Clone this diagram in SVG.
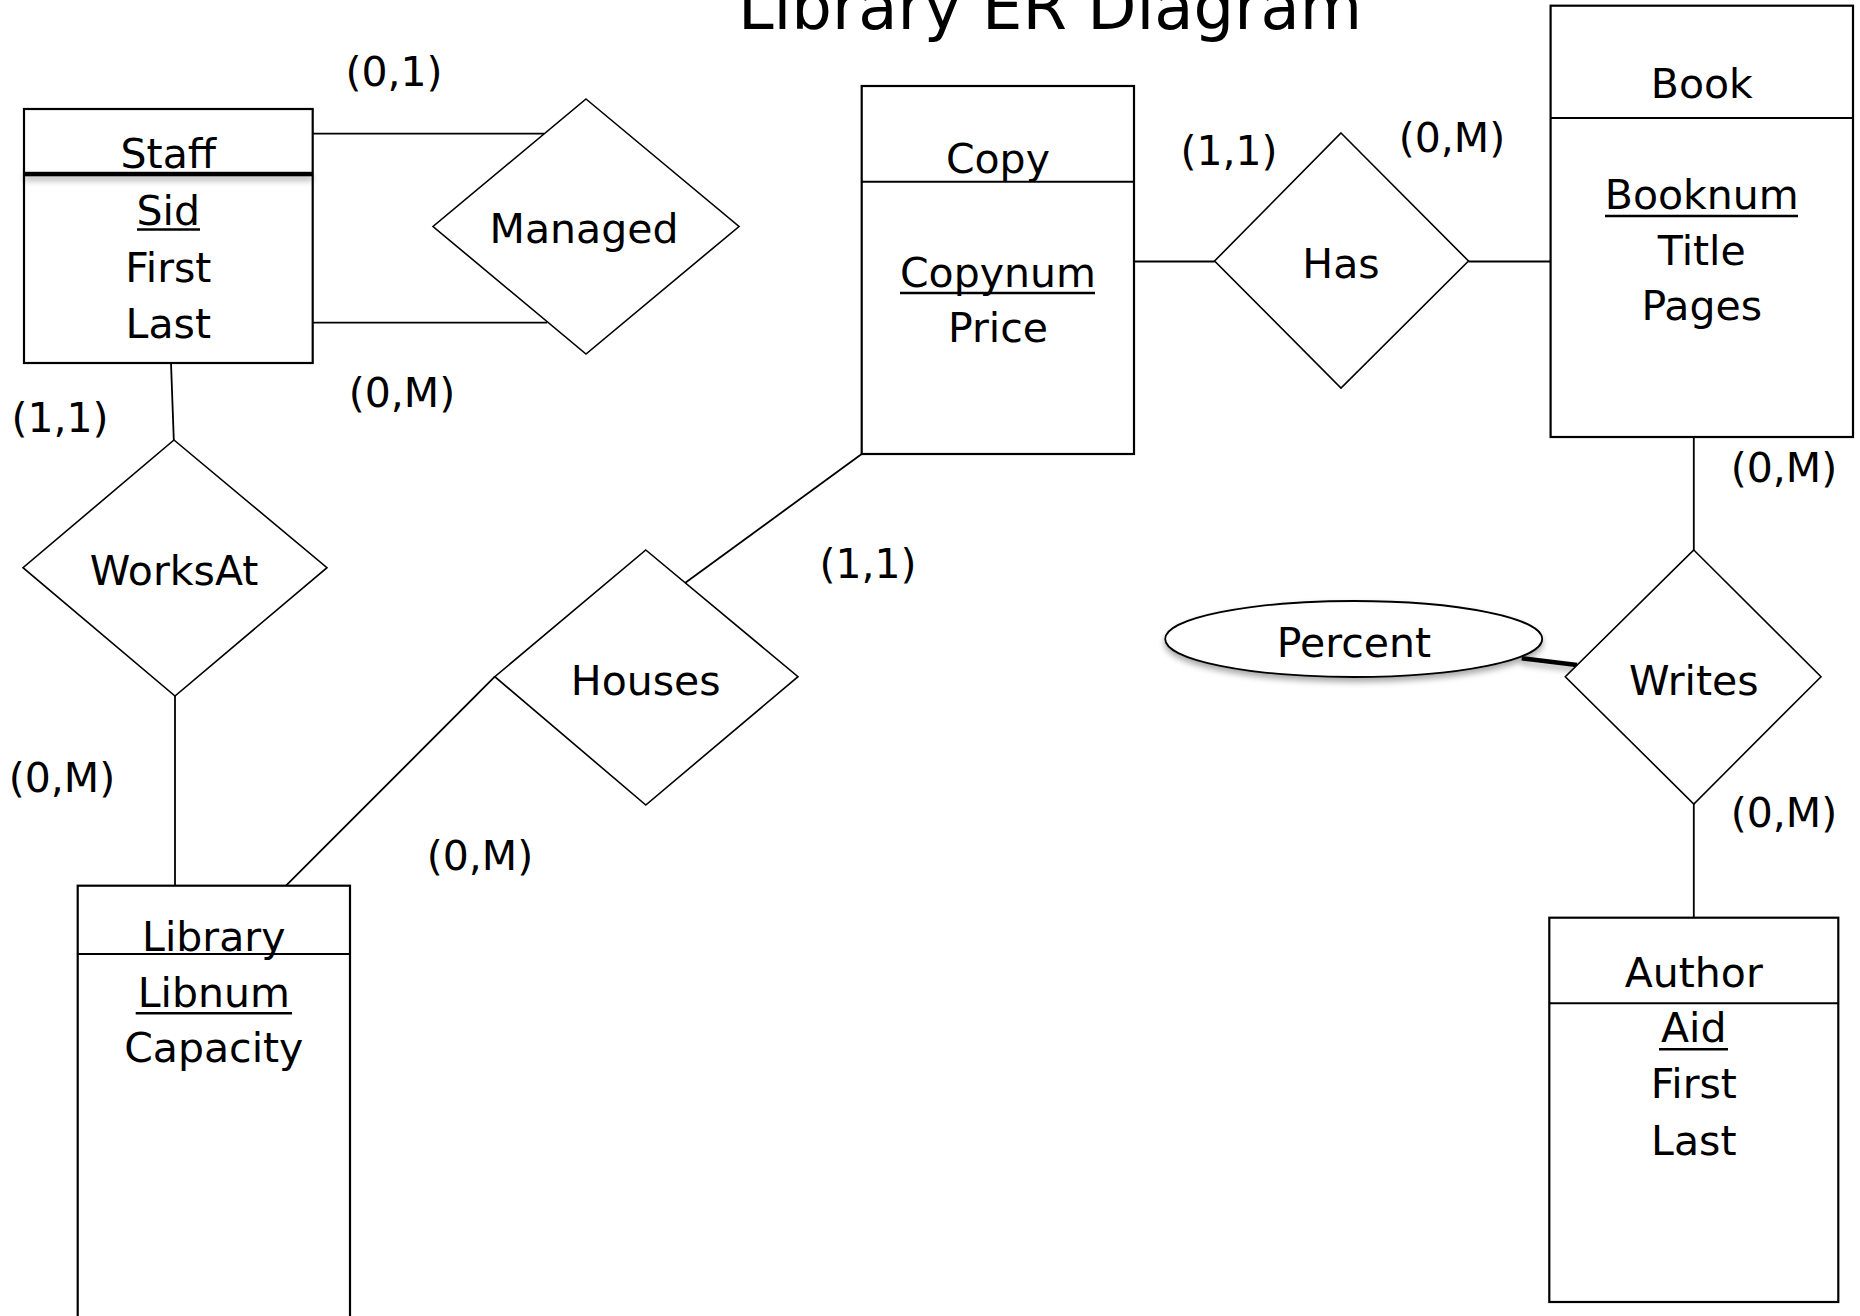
<svg xmlns="http://www.w3.org/2000/svg" width="1860" height="1316" viewBox="0 0 1860 1316">
<style>
text{font-family:"DejaVu Sans","Liberation Sans",sans-serif;font-size:41px;fill:#000;text-anchor:middle}
.title{font-size:64px}
.ent{fill:#fff;stroke:#000;stroke-width:2.2}
.div{stroke:#000;stroke-width:2}
.rel{fill:#fff;stroke:#000;stroke-width:1.6}
.con{stroke:#000;stroke-width:1.8;fill:none}
.ul{stroke:#000;stroke-width:2.5}
</style>
<defs>
<filter id="sh" filterUnits="userSpaceOnUse" x="0" y="0" width="1860" height="1316">
<feGaussianBlur in="SourceAlpha" stdDeviation="3"/>
<feOffset dx="0" dy="4" result="b"/>
<feComponentTransfer><feFuncA type="linear" slope="0.35"/></feComponentTransfer>
<feMerge><feMergeNode/><feMergeNode in="SourceGraphic"/></feMerge>
</filter>
</defs>
<rect width="1860" height="1316" fill="#fff"/>
<text class="title" x="1050" y="29">Library ER Diagram</text>

<g id="connectors">
<line class="con" x1="312.7" y1="133.7" x2="544" y2="133.7"/>
<line class="con" x1="312.7" y1="322.7" x2="547" y2="322.7"/>
<line class="con" x1="171" y1="363" x2="173.8" y2="440"/>
<line class="con" x1="175" y1="696" x2="175" y2="885.7"/>
<line class="con" x1="1134" y1="261.5" x2="1214.6" y2="261.5"/>
<line class="con" x1="1468.5" y1="261.5" x2="1550.6" y2="261.5"/>
<line class="con" x1="1693.8" y1="437" x2="1693.8" y2="550"/>
<line class="con" x1="1693.8" y1="804" x2="1693.8" y2="917.7"/>
<line class="con" x1="861.7" y1="454" x2="685" y2="583"/>
<line class="con" x1="494.8" y1="676.7" x2="286" y2="885.7"/>
<line x1="1521.7" y1="658.3" x2="1577" y2="665" stroke="#000" stroke-width="4.5" filter="url(#sh)"/>
</g>

<g id="staff">
<rect class="ent" x="24" y="109" width="288.7" height="254"/>
<rect x="24" y="171.8" width="288.7" height="4.5" fill="#000" filter="url(#sh)"/>
<text x="168.3" y="168">Staff</text>
<text x="168.3" y="225">Sid</text>
<line class="ul" x1="137" y1="229.5" x2="200" y2="229.5"/>
<text x="168.3" y="282">First</text>
<text x="168.3" y="338">Last</text>
</g>

<g id="managed">
<polygon class="rel" points="586,99 739,226.5 586,354 433,226.5"/>
<text x="584" y="243">Managed</text>
</g>

<g id="worksat">
<polygon class="rel" points="174,440 327,567.7 175,696 23,567.7"/>
<text x="174" y="585">WorksAt</text>
</g>

<g id="library">
<rect class="ent" x="77.7" y="885.7" width="272.3" height="440"/>
<line class="div" x1="77.7" y1="954" x2="350" y2="954"/>
<text x="213.8" y="950.7">Library</text>
<text x="213.8" y="1006.7">Libnum</text>
<line class="ul" x1="135.7" y1="1013.3" x2="292" y2="1013.3"/>
<text x="213.8" y="1062">Capacity</text>
</g>

<g id="houses">
<polygon class="rel" points="645.8,550 798,676.7 645.8,805 494.8,676.7"/>
<text x="645.8" y="695">Houses</text>
</g>

<g id="copy">
<rect class="ent" x="861.7" y="86" width="272.3" height="368"/>
<line class="div" x1="861.7" y1="181.7" x2="1134" y2="181.7"/>
<text x="997.9" y="173">Copy</text>
<text x="997.9" y="287">Copynum</text>
<line class="ul" x1="900" y1="293" x2="1095" y2="293"/>
<text x="997.9" y="342">Price</text>
</g>

<g id="has">
<polygon class="rel" points="1341,133 1468.5,261 1341,388 1214.6,261"/>
<text x="1341" y="278">Has</text>
</g>

<g id="book">
<rect class="ent" x="1550.6" y="5.7" width="302.4" height="431.3"/>
<line class="div" x1="1550.6" y1="118" x2="1853" y2="118"/>
<text x="1701.8" y="98">Book</text>
<text x="1701.8" y="209">Booknum</text>
<line class="ul" x1="1605" y1="216" x2="1798" y2="216"/>
<text x="1701.8" y="265">Title</text>
<text x="1701.8" y="320">Pages</text>
</g>

<g id="percent">
<ellipse cx="1353.7" cy="639" rx="188.5" ry="38" fill="#fff" stroke="#000" stroke-width="1.8" filter="url(#sh)"/>
<text x="1354" y="656.7">Percent</text>
</g>

<g id="writes">
<polygon class="rel" points="1693.8,550 1821,676.7 1693.8,804 1565.3,676.7"/>
<text x="1693.8" y="695">Writes</text>
</g>

<g id="author">
<rect class="ent" x="1549.3" y="917.7" width="289" height="384.3"/>
<line class="div" x1="1549.3" y1="1003.3" x2="1838.3" y2="1003.3"/>
<text x="1693.8" y="986.7">Author</text>
<text x="1693.8" y="1042.3">Aid</text>
<line class="ul" x1="1659" y1="1049.3" x2="1728" y2="1049.3"/>
<text x="1693.8" y="1098">First</text>
<text x="1693.8" y="1155">Last</text>
</g>

<g id="cardinalities">
<text x="394" y="86">(0,1)</text>
<text x="402" y="407">(0,M)</text>
<text x="60" y="432">(1,1)</text>
<text x="62" y="792">(0,M)</text>
<text x="480" y="870">(0,M)</text>
<text x="868" y="578">(1,1)</text>
<text x="1229" y="165">(1,1)</text>
<text x="1452" y="152">(0,M)</text>
<text x="1784" y="482">(0,M)</text>
<text x="1784" y="827">(0,M)</text>
</g>
</svg>
